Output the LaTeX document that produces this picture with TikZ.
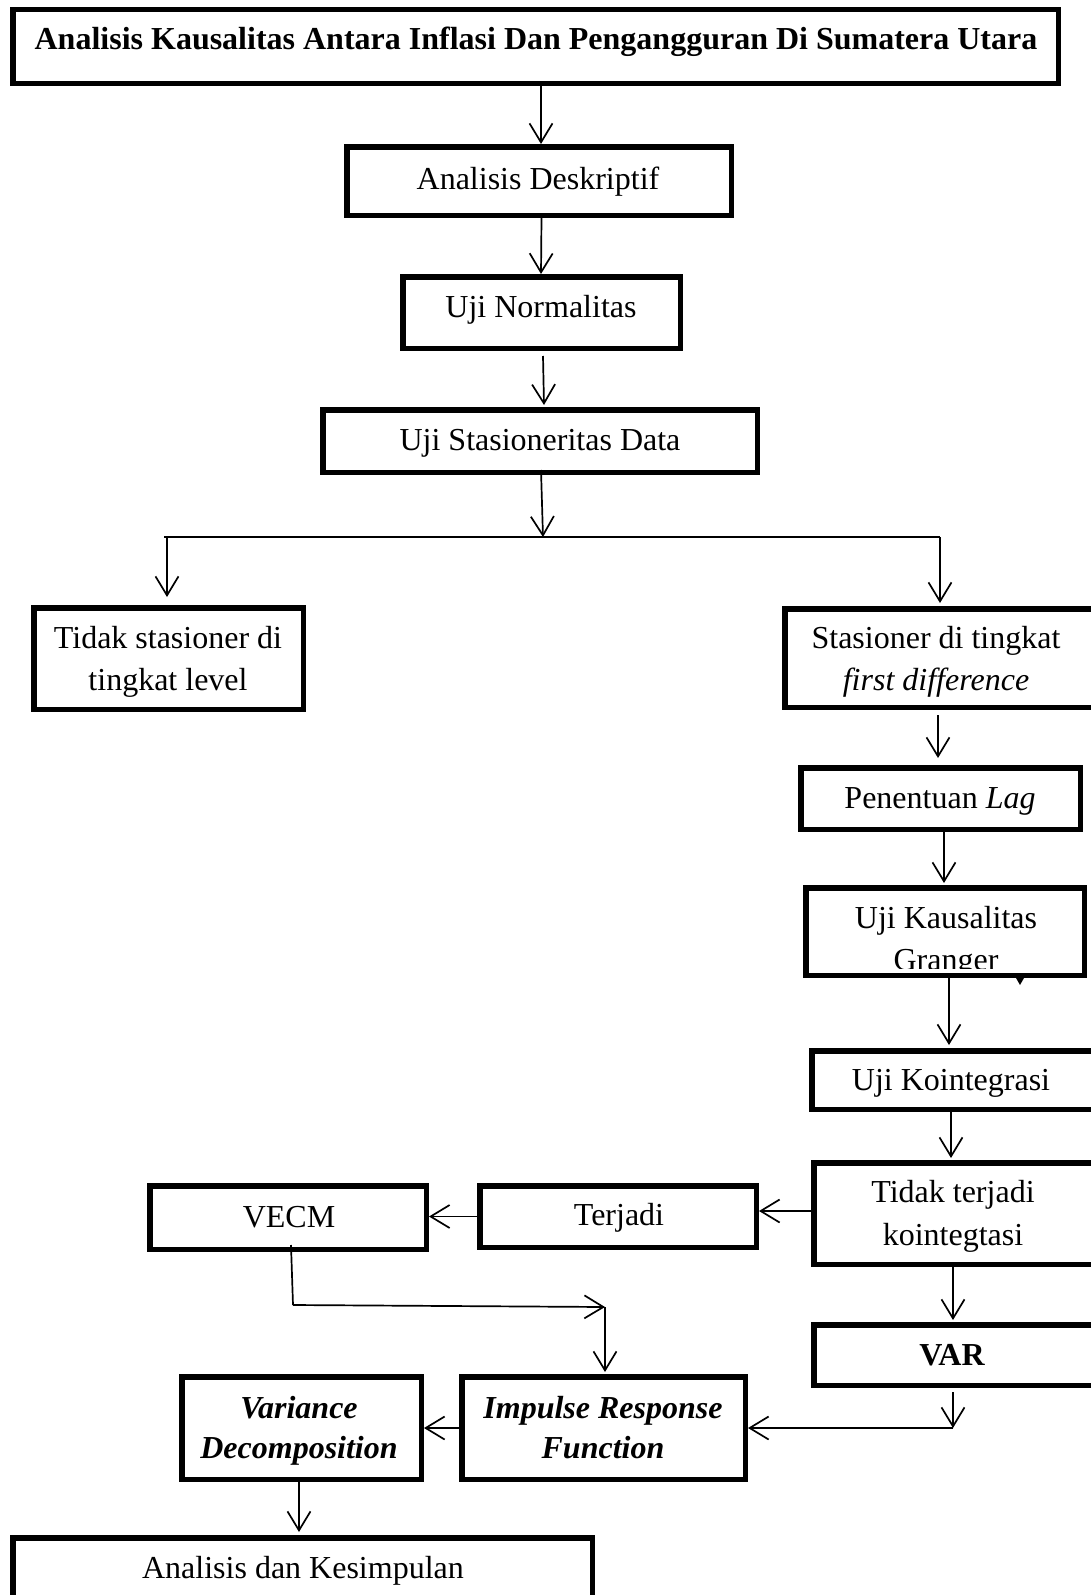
\documentclass[tikz,border=0pt]{standalone}
\usepackage{fontspec}
\setmainfont{Liberation Serif}
\usetikzlibrary{arrows.meta,calc}
\newcommand\mybox[5]{\node[box, minimum width={#4-#2-5.5}, minimum height={#5-#3-5.5}] (#1) at ({(#2+#4)/2},{(#3+#5)/2}) {};}
\begin{document}
\begin{tikzpicture}[x=1pt,y=-1pt,
  box/.style={draw, line width=5.5pt, inner sep=0pt, fill=white},
  txt/.style={inner sep=0pt, anchor=base, font=\fontsize{32}{42}\selectfont},
  ln/.style={line width=1.7pt},
  arr/.style={line width=1.7pt, -{Straight Barb[length=19pt,width=23pt]}}]
\useasboundingbox (0,0) rectangle (1091,1595);
% boxes
\mybox{title}{10}{7}{1061}{86}
\mybox{ad}{344}{144}{734}{218}
\mybox{un}{400}{274}{683}{351}
\mybox{usd}{320}{407}{760}{475}
\mybox{ts}{31}{605}{306}{712}
\mybox{sd}{782}{606}{1110}{710}
\mybox{pl}{798}{765}{1083}{832}
\mybox{ukg}{803}{885}{1087}{978}
\mybox{uk}{809}{1048}{1110}{1112}
\mybox{tt}{811}{1160}{1110}{1267}
\mybox{tj}{477}{1183}{759}{1250}
\mybox{vecm}{147}{1183}{429}{1252}
\mybox{var}{811}{1322}{1110}{1388}
\mybox{irf}{459}{1374}{748}{1482}
\mybox{vd}{179}{1374}{424}{1482}
\mybox{ak}{10}{1535}{595}{1640}
% texts
\node[txt] (titleT) at (536,50) {\bfseries Analisis Kausalitas Antara Inflasi Dan Pengangguran Di Sumatera Utara};
\node[txt] (adT) at (538,189) {Analisis Deskriptif};
\node[txt] (unT) at (541,317) {Uji Normalitas};
\node[txt] (usdT) at (540,450) {Uji Stasioneritas Data};
\node[txt] (tsT1) at (168,648) {Tidak stasioner di};
\node[txt] (tsT2) at (168,690) {tingkat level};
\node[txt] (sdT1) at (936,648) {Stasioner di tingkat};
\node[txt] (sdT2) at (936,690) {\itshape first difference};
\node[txt] (plT) at (940,808) {Penentuan \textit{Lag}};
\node[txt] (ukgT1) at (946,928) {Uji Kausalitas};
\begin{scope}
\clip (808,888) rectangle (1082,968);
\node[txt] (ukgT2) at (946,970) {Granger};
\end{scope}
\node[txt] (ukT) at (951,1090) {Uji Kointegrasi};
\node[txt] (ttT1) at (953,1202) {Tidak terjadi};
\node[txt] (ttT2) at (953,1245) {kointegtasi};
\node[txt] (tjT) at (619,1225) {Terjadi};
\node[txt] (vecmT) at (289,1227) {VECM};
\node[txt] (varT) at (952,1365) {\bfseries VAR};
\node[txt] (irfT1) at (603,1418) {\bfseries\itshape Impulse Response};
\node[txt] (irfT2) at (603,1458) {\bfseries\itshape Function};
\node[txt] (vdT1) at (299,1418) {\bfseries\itshape Variance};
\node[txt] (vdT2) at (299,1458) {\bfseries\itshape Decomposition};
\node[txt] (akT) at (303,1578) {Analisis dan Kesimpulan};
% small mark under Granger box
\fill ($(ukg.south west)+(213,0)$) -- ++(8,0) -- ++(-4,7) -- cycle;
% coordinates
\coordinate (barL) at (164,537);
\coordinate (barR) at (940,537);
\coordinate (barM) at (543,537);
\coordinate (vb) at (293,1305);
\coordinate (vc) at (605,1307);
\coordinate (vr) at (953,1428);
% connectors
\draw[arr] ($(title.south)+(5.5,0)$) -- ($(ad.north)+(2,0)$);
\draw[arr] ($(ad.south)+(2.5,0)$) -- ($(un.north)+(-0.5,0)$);
\draw[arr] ($(un.south)+(1.5,5)$) -- ($(usd.north)+(4,-2)$);
\draw[arr] ($(usd.south)+(1,-5)$) -- (barM);
\draw[ln] (barL) -- (barR);
\draw[arr] ($(barL)+(3,0)$) -- ($(ts.north)+(-1.5,-8)$);
\draw[arr] (barR) -- ($(sd.north west)+(158,-3)$);
\draw[arr] ($(sd.south west)+(156,5)$) -- ($(pl.north)+(-2.5,-7)$);
\draw[arr] ($(pl.south)+(3.5,0)$) -- ($(ukg.north)+(-1,-2)$);
\draw[arr] ($(ukg.south)+(4,0)$) -- ($(uk.north west)+(140,-3)$);
\draw[arr] ($(uk.south west)+(142,0)$) -- ($(tt.north west)+(140,-2)$);
\draw[arr] ($(tt.north west)+(0,51)$) -- ($(tj.north east)+(0,28)$);
\draw[arr] (tj.west) -- (vecm.east |- tj.west);
\draw[ln] ($(vecm.south)+(3,-7)$) -- (vb);
\draw[arr] (vb) -- (vc);
\draw[arr] (vc) -- ($(irf.north)+(1.5,-2)$);
\draw[arr] ($(tt.south west)+(142,0)$) -- ($(var.north west)+(142,-2)$);
\draw[arr] ($(var.south west)+(142,4)$) -- (vr);
\draw[arr] (vr) -- (irf.east |- vr);
\draw[arr] ($(irf.west)+(5,0)$) -- (vd.east);
\draw[arr] ($(vd.south)+(-2.5,0)$) -- ($(ak.north)+(-3.5,-3)$);
\end{tikzpicture}
\end{document}
